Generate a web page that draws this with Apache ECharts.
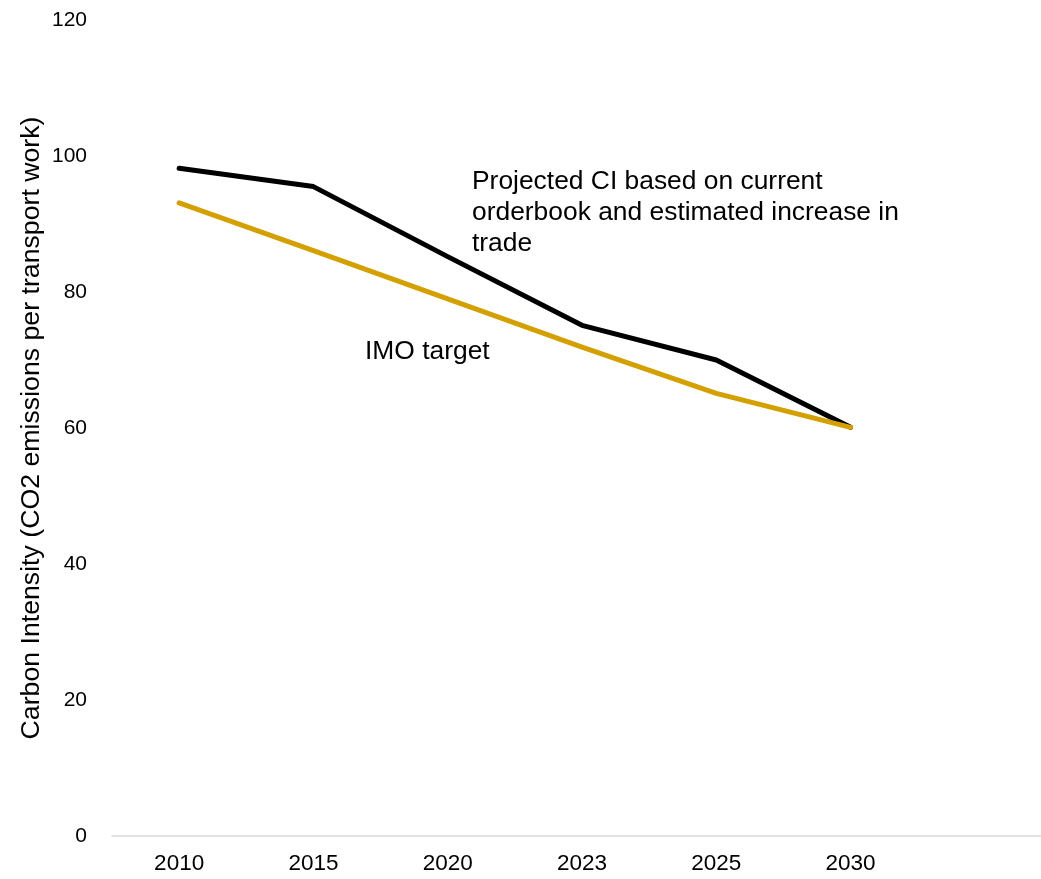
<!DOCTYPE html>
<html>
<head>
<meta charset="utf-8">
<script src="https://cdn.jsdelivr.net/npm/echarts@6/dist/echarts.min.js"></script>
<style>
  html, body { margin: 0; padding: 0; background: #fff; overflow: hidden; }
  /* the plot runs slightly past the right edge of the window */
  #chart { width: 1052px; height: 879px; }
</style>
</head>
<body>
<div id="chart"></div>
<script>
// Years on the category axis (a trailing empty slot leaves room on the right)
const years = ['2010', '2015', '2020', '2023', '2025', '2030', ''];
// Projected carbon intensity from current orderbook and trade growth
const projectedCI = [98.2, 95.5, 85.2, 75.1, 70.0, 60.1];
// IMO target trajectory
const imoTarget = [93.1, 86.1, 79.0, 71.9, 65.1, 60.1];
// Value axis ticks
const yMin = 0, yMax = 120, yStep = 20;

const FONT = '"Liberation Sans", Arial, sans-serif';
const chart = echarts.init(document.getElementById('chart'), null, { renderer: 'canvas' });

chart.setOption({
  backgroundColor: '#ffffff',
  animation: false,
  grid: { left: 112, top: 20, right: 0, bottom: 43, containLabel: false },
  xAxis: {
    type: 'category',
    data: years,
    boundaryGap: true,
    axisLine: { show: true, lineStyle: { color: '#d9d9d9', width: 1.5 } },
    axisTick: { show: false },
    axisLabel: { color: '#000', fontFamily: FONT, fontSize: 22.5, margin: 16 },
    splitLine: { show: false }
  },
  yAxis: {
    type: 'value',
    min: yMin, max: yMax, interval: yStep,
    name: 'Carbon Intensity (CO2 emissions per transport work)',
    nameLocation: 'middle',
    nameRotate: 90,
    nameGap: 67,
    nameMoveOverlap: false,
    nameTextStyle: { color: '#000', fontFamily: FONT, fontSize: 26.7 },
    axisLine: { show: false },
    axisTick: { show: false },
    splitLine: { show: false },
    axisLabel: { color: '#000', fontFamily: FONT, fontSize: 21, margin: 25 }
  },
  series: [
    {
      name: 'Projected CI',
      type: 'line',
      data: projectedCI,
      symbol: 'none',
      lineStyle: { color: '#000000', width: 5, cap: 'round', join: 'round' },
      z: 3
    },
    {
      name: 'IMO target',
      type: 'line',
      data: imoTarget,
      symbol: 'none',
      lineStyle: { color: '#d4a000', width: 5, cap: 'round', join: 'round' },
      z: 4
    }
  ],
  graphic: [
    {
      type: 'text',
      left: 472,
      top: 166,
      style: {
        text: 'Projected CI based on current\norderbook and estimated increase in\ntrade',
        font: '26.4px ' + FONT,
        fill: '#000',
        lineHeight: 31
      }
    },
    {
      type: 'text',
      left: 365,
      top: 339,
      style: {
        text: 'IMO target',
        font: '26.4px ' + FONT,
        fill: '#000'
      }
    }
  ]
});
</script>
</body>
</html>
